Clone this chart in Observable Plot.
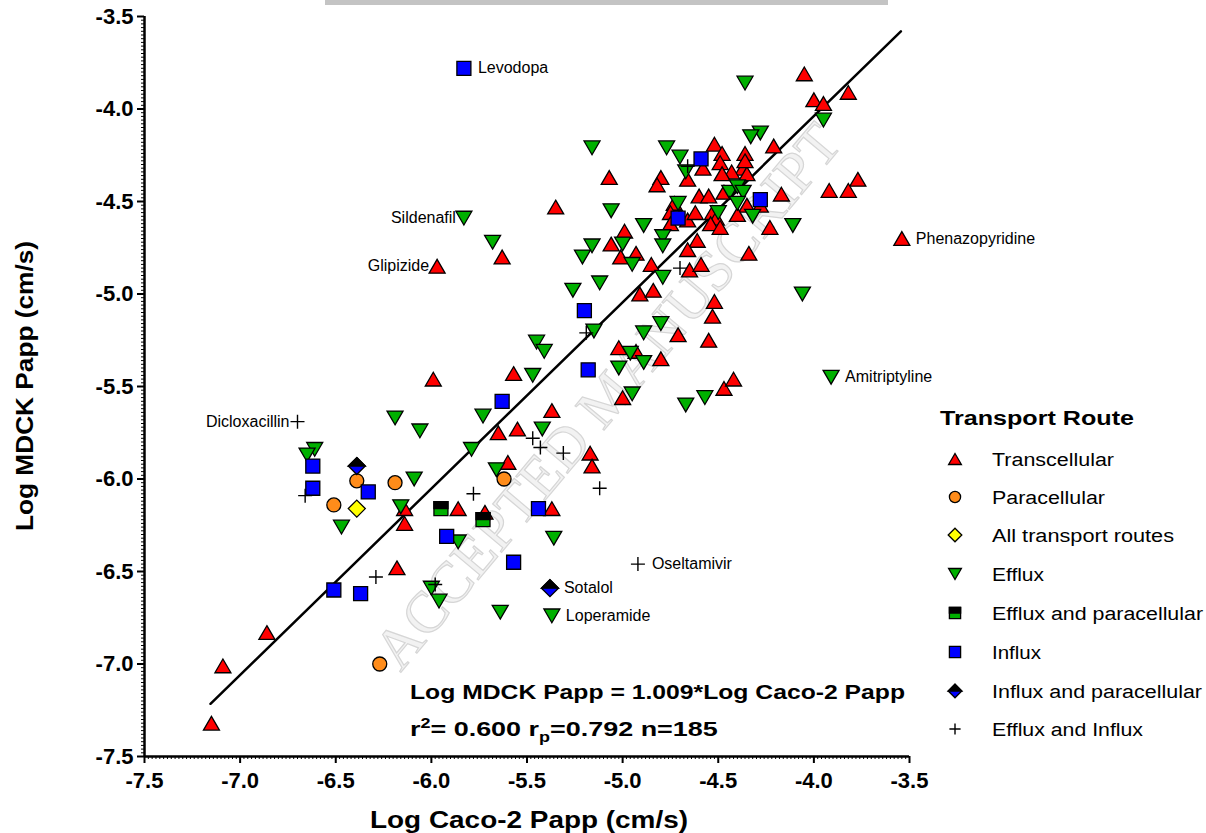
<!DOCTYPE html>
<html><head><meta charset="utf-8">
<script src="https://cdn.jsdelivr.net/npm/d3@7"></script>
<script src="https://cdn.jsdelivr.net/npm/@observablehq/plot@0.6"></script>
<style>body{margin:0;background:#fff;} svg{display:block}</style>
</head><body><div id="chart"></div>
<script>
// ---------------- DATA ----------------
const transcellular = [[-4.05,-3.81],[-4.00,-3.95],[-3.95,-3.97],[-3.82,-3.91],[-4.21,-4.20],[-4.36,-4.24],[-4.52,-4.19],[-4.48,-4.24],[-4.49,-4.29],[-4.37,-4.32],[-4.35,-4.35],[-4.43,-4.34],[-4.48,-4.35],[-4.58,-4.32],[-4.66,-4.38],[-4.80,-4.37],[-4.82,-4.41],[-3.77,-4.38],[-3.92,-4.44],[-3.82,-4.44],[-4.17,-4.46],[-4.28,-4.52],[-4.35,-4.52],[-4.23,-4.64],[-4.34,-4.78],[-4.60,-4.47],[-4.55,-4.47],[-4.47,-4.45],[-4.73,-4.51],[-4.75,-4.56],[-4.70,-4.58],[-4.66,-4.60],[-4.62,-4.56],[-4.53,-4.56],[-4.51,-4.59],[-4.54,-4.62],[-4.49,-4.64],[-4.40,-4.57],[-4.75,-4.62],[-4.61,-4.71],[-4.66,-4.76],[-5.07,-4.37],[-5.35,-4.53],[-4.99,-4.66],[-5.06,-4.73],[-5.01,-4.80],[-4.93,-4.78],[-4.85,-4.84],[-4.65,-4.87],[-4.59,-4.84],[-4.91,-5.00],[-4.84,-4.98],[-4.52,-5.04],[-4.53,-5.12],[-3.54,-4.70],[-5.97,-4.85],[-5.63,-4.80],[-4.71,-5.22],[-4.55,-5.25],[-5.02,-5.29],[-4.93,-5.31],[-4.80,-5.35],[-5.00,-5.56],[-4.47,-5.51],[-4.42,-5.46],[-5.57,-5.43],[-5.37,-5.63],[-5.55,-5.73],[-5.65,-5.75],[-5.60,-5.91],[-5.17,-5.86],[-5.16,-5.93],[-5.86,-6.16],[-5.72,-6.18],[-5.37,-6.16],[-5.99,-5.46],[-6.14,-6.16],[-6.14,-6.24],[-6.18,-6.48],[-6.86,-6.83],[-7.09,-7.01],[-7.15,-7.32],[-4.36,-4.28]];
const paracellular = [[-6.39,-6.01],[-6.19,-6.02],[-6.51,-6.14],[-6.27,-7.00],[-5.62,-6.00]];
const allRoutes = [[-6.39,-6.16]];
const efflux = [[-4.36,-3.86],[-3.95,-4.06],[-4.28,-4.13],[-4.33,-4.15],[-4.32,-4.58],[-4.11,-4.63],[-4.06,-5.00],[-3.91,-5.45],[-4.77,-4.21],[-4.70,-4.26],[-4.67,-4.34],[-4.44,-4.45],[-4.40,-4.42],[-4.37,-4.45],[-4.71,-4.51],[-4.50,-4.56],[-4.40,-4.51],[-4.79,-4.69],[-4.89,-4.63],[-5.16,-4.21],[-5.06,-4.55],[-5.00,-4.73],[-5.16,-4.74],[-5.21,-4.80],[-4.95,-4.84],[-4.79,-4.74],[-4.79,-4.91],[-5.12,-4.94],[-5.26,-4.98],[-5.83,-4.59],[-5.68,-4.72],[-5.15,-5.20],[-5.45,-5.26],[-5.41,-5.31],[-5.47,-5.44],[-5.73,-5.66],[-5.42,-5.73],[-5.79,-5.84],[-5.66,-5.95],[-4.89,-5.21],[-4.80,-5.16],[-4.96,-5.32],[-4.89,-5.37],[-5.02,-5.40],[-4.95,-5.54],[-4.67,-5.60],[-4.57,-5.56],[-5.86,-6.34],[-5.36,-6.32],[-5.64,-6.72],[-5.37,-6.74],[-6.19,-5.67],[-6.06,-5.74],[-6.61,-5.84],[-6.65,-5.87],[-6.09,-6.00],[-6.16,-6.15],[-6.47,-6.26],[-6.00,-6.59],[-5.96,-6.66]];
const effluxPara = [[-5.95,-6.16],[-5.73,-6.22]];
const influx = [[-5.83,-3.78],[-4.59,-4.27],[-4.71,-4.59],[-4.28,-4.49],[-5.20,-5.09],[-5.18,-5.41],[-5.63,-5.58],[-5.44,-6.16],[-5.92,-6.31],[-5.57,-6.45],[-6.62,-5.93],[-6.62,-6.05],[-6.33,-6.07],[-6.51,-6.60],[-6.37,-6.62]];
const influxPara = [[-6.39,-5.93],[-5.38,-6.59]];
const effluxInflux = [[-6.70,-5.69],[-4.66,-4.31],[-4.70,-4.86],[-6.66,-6.09],[-5.78,-6.08],[-6.29,-6.53],[-5.98,-6.57],[-5.19,-5.21],[-5.47,-5.78],[-5.43,-5.83],[-5.31,-5.86],[-5.12,-6.05],[-4.92,-6.46]];

const labelsRight = [{name:"Levodopa",x:-5.83,y:-3.78},{name:"Phenazopyridine",x:-3.54,y:-4.70},{name:"Amitriptyline",x:-3.91,y:-5.45},{name:"Oseltamivir",x:-4.92,y:-6.46},{name:"Sotalol",x:-5.38,y:-6.59},{name:"Loperamide",x:-5.37,y:-6.74}];
const labelsLeft = [{name:"Sildenafil",x:-5.83,y:-4.59},{name:"Glipizide",x:-5.97,y:-4.85},{name:"Dicloxacillin",x:-6.70,y:-5.69}];

const fitX = [-7.155, -3.545];
const fitY = [-7.215, -3.58];

const axisTicks = [-7.5,-7.0,-6.5,-6.0,-5.5,-5.0,-4.5,-4.0,-3.5];
const legendNames = ["Transcellular","Paracellular","All transport routes","Efflux","Efflux and paracellular","Influx","Influx and paracellular","Efflux and Influx"];
const legendWidths = [122,113,182,52,211,49,210,151];
const legendTitle = "Transport Route";
const eqLine1 = "Log MDCK Papp = 1.009*Log Caco-2 Papp";
const xTitle = "Log Caco-2 Papp (cm/s)";
const yTitle = "Log MDCK Papp (cm/s)";
const watermark = "ACCEPTED MANUSCRIPT";

// ---------------- SYMBOLS ----------------
const mk = f => ({draw(ctx, size){ f(ctx, Math.sqrt(size/Math.PI)); }});
const symUp = mk((c,r)=>{c.moveTo(0,-0.86*r);c.lineTo(r,0.86*r);c.lineTo(-r,0.86*r);c.closePath();});
const symDown = mk((c,r)=>{c.moveTo(0,0.86*r);c.lineTo(r,-0.86*r);c.lineTo(-r,-0.86*r);c.closePath();});
const symSquare = mk((c,r)=>{c.rect(-r,-r,2*r,2*r);});
const symTopSquare = mk((c,r)=>{c.rect(-r,-r,2*r,r);});
const symCircle = mk((c,r)=>{c.moveTo(r,0);c.arc(0,0,r,0,2*Math.PI);});
const symDiamond = mk((c,r)=>{c.moveTo(0,-r);c.lineTo(r,0);c.lineTo(0,r);c.lineTo(-r,0);c.closePath();});
const symTopDiamond = mk((c,r)=>{c.moveTo(0,-r);c.lineTo(r,0);c.lineTo(-r,0);c.closePath();});
const symPlus = mk((c,r)=>{c.moveTo(-r,0);c.lineTo(r,0);c.moveTo(0,-r);c.lineTo(0,r);});

const RED="#ff0000", ORANGE="#ff8c1a", YELLOW="#ffff00", GREEN="#00b000", BLUE="#0000ff";

const layers = [
  {data: transcellular, sym: symUp, fill: RED, r: 8},
  {data: paracellular, sym: symCircle, fill: ORANGE, r: 7},
  {data: allRoutes, sym: symDiamond, fill: YELLOW, r: 8.5},
  {data: efflux, sym: symDown, fill: GREEN, r: 8},
  {data: effluxPara, sym: symSquare, fill: GREEN, r: 7, top: symTopSquare},
  {data: influx, sym: symSquare, fill: BLUE, r: 7},
  {data: influxPara, sym: symDiamond, fill: BLUE, r: 8.5, top: symTopDiamond},
  {data: effluxInflux, sym: symPlus, fill: "none", r: 7, plus: true}
];

const minorTicks = d3.range(-7.5, -3.499, 0.02);

const marks = [];
for (const L of layers) {
  if (L.plus) {
    marks.push(Plot.dot(L.data, {x: d=>d[0], y: d=>d[1], symbol: L.sym, r: L.r, stroke: "black", strokeWidth: 1.4, fill: "none"}));
  } else {
    marks.push(Plot.dot(L.data, {x: d=>d[0], y: d=>d[1], symbol: L.sym, r: L.r, fill: L.fill, stroke: "black", strokeWidth: 1.3}));
    if (L.top) marks.push(Plot.dot(L.data, {x: d=>d[0], y: d=>d[1], symbol: L.top, r: L.r, fill: "black", stroke: "black", strokeWidth: 1.3}));
  }
}

const chart = Plot.plot({
  width: 1206, height: 833,
  marginLeft: 144, marginRight: 297, marginTop: 16, marginBottom: 77,
  style: {fontFamily: "Liberation Sans, Arial, sans-serif", background: "white", overflow: "visible"},
  x: {domain: [-7.5, -3.5]},
  y: {domain: [-7.5, -3.5]},
  marks: [
    Plot.axisX({ticks: minorTicks, tickSize: 3, tickFormat: () => "", label: null, strokeWidth: 1}),
    Plot.axisY({ticks: minorTicks, tickSize: 3, tickFormat: () => "", label: null, strokeWidth: 1}),
    Plot.axisX({ticks: axisTicks, tickSize: 7, tickPadding: 9, tickFormat: d => d.toFixed(1), label: null, strokeWidth: 2, fontSize: 22, fontWeight: "bold", fill: "black", ariaLabel: "xmajor"}),
    Plot.axisY({ticks: axisTicks, tickSize: 7, tickPadding: 4, tickFormat: d => d.toFixed(1), label: null, strokeWidth: 2, fontSize: 22, fontWeight: "bold", fill: "black", ariaLabel: "ymajor"}),
    Plot.ruleX([-7.5], {strokeWidth: 2.5}),
    Plot.ruleY([-7.5], {strokeWidth: 2.5}),
    Plot.line(fitX.map((x,i)=>({x, y: fitY[i]})), {x: "x", y: "y", stroke: "black", strokeWidth: 2.5}),
    ...marks,
    Plot.text(labelsRight, {x: "x", y: "y", text: "name", textAnchor: "start", dx: 14, fontSize: 16, fill: "black", ariaLabel: "ptlabel"}),
    Plot.text(labelsLeft, {x: "x", y: "y", text: "name", textAnchor: "end", dx: -8, fontSize: 16, fill: "black", ariaLabel: "ptlabel"})
  ]
});
document.getElementById("chart").append(chart);

const svg = d3.select(chart);
function stretch(nodes, f){ nodes.forEach(t=>{ const L=t.getComputedTextLength(); if(L>0){ t.setAttribute("textLength", L*f); t.setAttribute("lengthAdjust","spacingAndGlyphs"); } }); }
chart.querySelectorAll('g[aria-label="xmajor"] text').forEach(t=>{ if(t.textContent){ t.setAttribute("textLength",45); t.setAttribute("lengthAdjust","spacingAndGlyphs"); }});
chart.querySelectorAll('g[aria-label="ymajor"] text').forEach(t=>{ if(t.textContent){ t.setAttribute("textLength",42); t.setAttribute("lengthAdjust","spacingAndGlyphs"); }});
stretch(chart.querySelectorAll('g[aria-label="ptlabel"] text'), 1.08);

// watermark + grey bar behind marks
const bg = svg.insert("g", ":first-child");
bg.append("rect").attr("x",325).attr("y",0).attr("width",563).attr("height",5).attr("fill","#c4c4c4");
bg.append("text").attr("transform","translate(612,400) rotate(-50)").attr("text-anchor","middle").attr("dominant-baseline","middle")
  .attr("font-family","Liberation Serif, Times New Roman, serif").attr("font-size",58).attr("fill","#f2f2f2").attr("stroke","#d6d6d6").attr("stroke-width",1.2)
  .attr("textLength",690).attr("lengthAdjust","spacingAndGlyphs").text(watermark);
chart.insertBefore(bg.node(), chart.firstChild.nextSibling);

const ov = svg.append("g").attr("font-family","Liberation Sans, Arial, sans-serif").attr("fill","black").attr("text-anchor","start");
// axis titles
ov.append("text").attr("x",529).attr("y",828).attr("text-anchor","middle").attr("font-size",23).attr("font-weight","bold")
  .attr("textLength",318).attr("lengthAdjust","spacingAndGlyphs").text(xTitle);
ov.append("text").attr("transform","translate(33,386) rotate(-90)").attr("text-anchor","middle").attr("font-size",23).attr("font-weight","bold")
  .attr("textLength",290).attr("lengthAdjust","spacingAndGlyphs").text(yTitle);
// equation
ov.append("text").attr("x",410).attr("y",699).attr("font-size",21).attr("font-weight","bold")
  .attr("textLength",495).attr("lengthAdjust","spacingAndGlyphs").text(eqLine1);
const t2 = ov.append("text").attr("x",410).attr("y",736).attr("font-size",21).attr("font-weight","bold");
t2.append("tspan").text("r");
t2.append("tspan").attr("font-size",14).attr("dy",-8).text("2");
t2.append("tspan").attr("dy",8).text("= 0.600 r");
t2.append("tspan").attr("font-size",14).attr("dy",6).text("p");
t2.append("tspan").attr("dy",-6).text("=0.792 n=185");
{ const L = t2.node().getComputedTextLength(); t2.attr("transform", `translate(410,736) scale(${308/L},1) translate(-410,-736)`); }

// legend
const lg = ov.append("g");
lg.append("text").attr("x",940).attr("y",425).attr("font-size",20).attr("font-weight","bold")
  .attr("textLength",194).attr("lengthAdjust","spacingAndGlyphs").text(legendTitle);
const rowY = [459,497,535,574,613,652,691,729];
layers.forEach((L,i)=>{
  const cy = rowY[i];
  const p = d3.path(); L.sym.draw(p, Math.PI*(L.r*0.8)**2);
  lg.append("path").attr("d", p.toString()).attr("transform",`translate(955,${cy})`)
    .attr("fill", L.plus ? "none" : L.fill).attr("stroke","black").attr("stroke-width", L.plus?1.4:1.3);
  if (L.top) { const q = d3.path(); L.top.draw(q, Math.PI*(L.r*0.8)**2);
    lg.append("path").attr("d", q.toString()).attr("transform",`translate(955,${cy})`).attr("fill","black").attr("stroke","black").attr("stroke-width",1.3); }
  lg.append("text").attr("x",992).attr("y",cy+6.5).attr("font-size",18)
    .attr("textLength",legendWidths[i]).attr("lengthAdjust","spacingAndGlyphs").text(legendNames[i]);
});
</script>
</body></html>
